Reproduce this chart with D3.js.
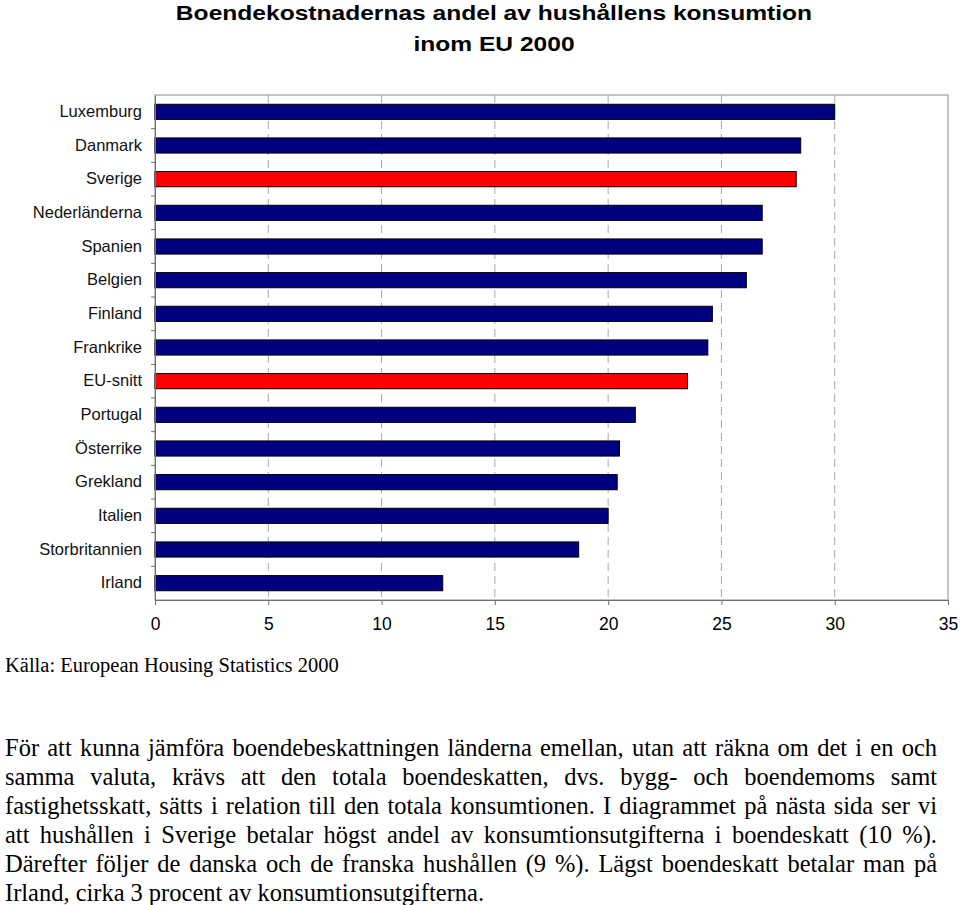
<!DOCTYPE html>
<html><head><meta charset="utf-8">
<script src="https://cdn.jsdelivr.net/npm/d3@7"></script>
<style>body{margin:0;background:#fff}svg{display:block}</style>
</head><body>
<svg id="c" width="960" height="905"></svg>
<script>
const categories = ["Luxemburg","Danmark","Sverige","Nederländerna","Spanien","Belgien","Finland","Frankrike","EU-snitt","Portugal","Österrike","Grekland","Italien","Storbritannien","Irland"];
const values = [30.0,28.5,28.3,26.8,26.8,26.1,24.6,24.4,23.5,21.2,20.5,20.4,20.0,18.7,12.7];
const highlighted = ["Sverige","EU-snitt"];
const xTicks = [0,5,10,15,20,25,30,35];
const titleLines = ["Boendekostnadernas andel av hushållens konsumtion","inom EU 2000"];
const sourceText = "Källa: European Housing Statistics 2000";
const paragraphLines = [
 "För att kunna jämföra boendebeskattningen länderna emellan, utan att räkna om det i en och",
 "samma valuta, krävs att den totala boendeskatten, dvs. bygg- och boendemoms samt",
 "fastighetsskatt, sätts i relation till den totala konsumtionen. I diagrammet på nästa sida ser vi",
 "att hushållen i Sverige betalar högst andel av konsumtionsutgifterna i boendeskatt (10 %).",
 "Därefter följer de danska och de franska hushållen (9 %). Lägst boendeskatt betalar man på",
 "Irland, cirka 3 procent av konsumtionsutgifterna."
];

const svg = d3.select("#c");
const L = 155, R = 948, T = 95, B = 600;
const x = d3.scaleLinear().domain([0,35]).range([L,R]);
const y = d3.scaleBand().domain(categories).range([T,B]).paddingInner(0.55).paddingOuter(0.275);
const yb = d3.scaleBand().domain(categories).range([T,B]);

// title (horizontally widened like the original)
const tt = svg.append("g").selectAll("text").data(titleLines).join("text")
  .attr("x",494).attr("y",(d,i)=>20+i*31).attr("text-anchor","middle")
  .attr("font-family","Liberation Sans, Arial, sans-serif").attr("font-weight","bold")
  .attr("font-size",21).attr("fill","#000").text(d=>d);
tt.each(function(){ const w=this.getComputedTextLength(); d3.select(this).attr("textLength",w*1.17).attr("lengthAdjust","spacingAndGlyphs"); });

// plot border
svg.append("rect").attr("x",L).attr("y",T).attr("width",R-L).attr("height",B-T)
  .attr("fill","none").attr("stroke","#a0a0a0").attr("stroke-width",1.2);

// gridlines
svg.append("g").selectAll("line").data(xTicks.filter(t=>t>0&&t<35)).join("line")
  .attr("x1",d=>x(d)).attr("x2",d=>x(d)).attr("y1",T).attr("y2",B)
  .attr("stroke","#a8a8a8").attr("stroke-dasharray","8,5").attr("stroke-width",1);

// bars
svg.append("g").selectAll("rect").data(categories).join("rect")
  .attr("x",x(0)).attr("y",d=>y(d)).attr("height",y.bandwidth())
  .attr("width",(d,i)=>x(values[i])-x(0))
  .attr("fill",d=>highlighted.includes(d)?"#ff0000":"#000080")
  .attr("stroke","#000").attr("stroke-width",1);

// x axis
const xa = svg.append("g").attr("transform",`translate(0,${B})`)
  .call(d3.axisBottom(x).tickValues(xTicks).tickSize(5).tickPadding(13).tickFormat(d3.format("d")));
xa.select(".domain").attr("stroke","#707070");
xa.selectAll(".tick line").attr("stroke","#707070");
xa.selectAll("text").attr("font-family","Liberation Sans, Arial, sans-serif").attr("font-size",17.5).attr("fill","#000");

// y axis
const ya = svg.append("g").attr("transform",`translate(${L},0)`)
  .call(d3.axisLeft(yb).tickSize(0).tickPadding(13));
ya.select(".domain").attr("stroke","#707070");
ya.selectAll("text").attr("font-family","Liberation Sans, Arial, sans-serif").attr("font-size",16.5)
  .attr("fill","#111");
// minor ticks at band boundaries
svg.append("g").selectAll("line").data(categories.slice(1)).join("line")
  .attr("x1",L-4).attr("x2",L).attr("y1",d=>yb(d)).attr("y2",d=>yb(d)).attr("stroke","#707070");

// source
svg.append("text").attr("x",5).attr("y",672).attr("font-family","Liberation Serif, Times New Roman, serif")
  .attr("font-size",20.5).attr("fill","#000").text(sourceText);

// justified paragraph
const pg = svg.append("g").attr("font-family","Liberation Serif, Times New Roman, serif").attr("font-size",24.5).attr("fill","#000");
const pL = 5, pR = 937;
paragraphLines.forEach((line,li)=>{
  const words = line.split(" ");
  const yy = 756 + li*29;
  const nodes = words.map(w=>pg.append("text").attr("y",yy).text(w));
  let widths = nodes.map(n=>n.node().getComputedTextLength());
  const last = li===paragraphLines.length-1;
  const minGap = 4;
  let total = d3.sum(widths);
  const avail = pR-pL-(words.length-1)*minGap;
  if (total > avail) {
    const k = avail/total;
    widths = widths.map(w=>w*k);
    nodes.forEach((n,i)=>n.attr("textLength",widths[i]).attr("lengthAdjust","spacingAndGlyphs"));
    total = d3.sum(widths);
  }
  const gap = last ? 6 : (pR-pL-total)/(words.length-1);
  let cx = pL;
  nodes.forEach((n,i)=>{ n.attr("x",cx); cx += widths[i]+gap; });
});
</script>
</body></html>
